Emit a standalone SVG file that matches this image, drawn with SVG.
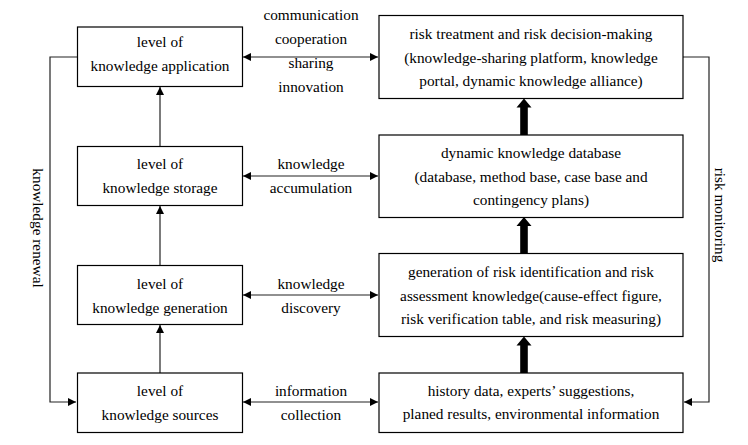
<svg xmlns="http://www.w3.org/2000/svg" width="748" height="445" viewBox="0 0 748 445">
<style>
.box{fill:#fff;stroke:#000;stroke-width:1.2}
.t{font-family:'Liberation Serif','Times New Roman',serif;font-size:15.3px;fill:#000;text-anchor:middle}
.ln{fill:none;stroke:#222;stroke-width:1.2}
.thick{fill:#000;stroke:none}
</style>
<defs>
<marker id="ah" viewBox="0 0 10 10" refX="10" refY="5" markerWidth="8" markerHeight="8" markerUnits="userSpaceOnUse" orient="auto-start-reverse">
<path d="M0,0 L10,5 L0,10 z" fill="#000"/>
</marker>
</defs>
<rect width="748" height="445" fill="#fff"/>
<g id="connectors">
<line class="ln" x1="243" y1="57" x2="378" y2="57" marker-start="url(#ah)" marker-end="url(#ah)"/>
<line class="ln" x1="243" y1="176" x2="378" y2="176" marker-start="url(#ah)" marker-end="url(#ah)"/>
<line class="ln" x1="243" y1="295" x2="378" y2="295" marker-start="url(#ah)" marker-end="url(#ah)"/>
<line class="ln" x1="243" y1="402" x2="378" y2="402" marker-start="url(#ah)" marker-end="url(#ah)"/>
<line class="ln" x1="160" y1="146" x2="160" y2="87" marker-end="url(#ah)"/>
<line class="ln" x1="160" y1="265" x2="160" y2="206" marker-end="url(#ah)"/>
<line class="ln" x1="160" y1="373" x2="160" y2="325" marker-end="url(#ah)"/>
<polyline class="ln" points="77,57 50,57 50,402 76,402" marker-end="url(#ah)"/>
<polyline class="ln" points="683,57 709,57 709,402 684,402" marker-end="url(#ah)"/>
<path class="thick" d="M520.2,135 L520.2,107.5 L516.5,107.5 L524,98.5 L531.5,107.5 L527.8,107.5 L527.8,135 z"/>
<path class="thick" d="M520.2,253.5 L520.2,226 L516.5,226 L524,217 L531.5,226 L527.8,226 L527.8,253.5 z"/>
<path class="thick" d="M520.2,373 L520.2,345.5 L516.5,345.5 L524,336.5 L531.5,345.5 L527.8,345.5 L527.8,373 z"/>
</g>
<g id="label-row1">
<text class="t" x="311" y="20">communication</text>
<text class="t" x="311" y="44.3">cooperation</text>
<text class="t" x="311" y="68.3">sharing</text>
<text class="t" x="311" y="92.3">innovation</text>
</g>
<g id="label-row2">
<text class="t" x="311" y="169.3">knowledge</text>
<text class="t" x="311" y="193.3">accumulation</text>
</g>
<g id="label-row3">
<text class="t" x="311" y="288.5">knowledge</text>
<text class="t" x="311" y="312.5">discovery</text>
</g>
<g id="label-row4">
<text class="t" x="311" y="396">information</text>
<text class="t" x="311" y="419.5">collection</text>
</g>
<g id="label-renewal">
<text class="t" transform="translate(33,228) rotate(90)">knowledge renewal</text>
</g>
<g id="label-monitoring">
<text class="t" transform="translate(714.5,215) rotate(90)">risk monitoring</text>
</g>
<g id="node-application">
<rect class="box" x="77.5" y="27" width="165" height="59.5"/>
<text class="t" x="160" y="46.5">level of</text>
<text class="t" x="160" y="70.5">knowledge application</text>
</g>
<g id="node-storage">
<rect class="box" x="77.5" y="146.5" width="165" height="59"/>
<text class="t" x="160" y="169.3">level of</text>
<text class="t" x="160" y="193.3">knowledge storage</text>
</g>
<g id="node-generation">
<rect class="box" x="77.5" y="265.5" width="165" height="59"/>
<text class="t" x="160" y="288.5">level of</text>
<text class="t" x="160" y="312.5">knowledge generation</text>
</g>
<g id="node-sources">
<rect class="box" x="77.5" y="373" width="165" height="59.5"/>
<text class="t" x="160" y="396">level of</text>
<text class="t" x="160" y="420">knowledge sources</text>
</g>
<g id="node-treatment">
<rect class="box" x="379" y="15.5" width="304" height="83"/>
<text class="t" x="531" y="38.5">risk treatment and risk decision-making</text>
<text class="t" x="531" y="62.5">(knowledge-sharing platform, knowledge</text>
<text class="t" x="531" y="86">portal, dynamic knowledge alliance)</text>
</g>
<g id="node-database">
<rect class="box" x="379" y="135" width="304" height="82.5"/>
<text class="t" x="531" y="158">dynamic knowledge database</text>
<text class="t" x="531" y="181.5">(database, method base, case base and</text>
<text class="t" x="531" y="205">contingency plans)</text>
</g>
<g id="node-identification">
<rect class="box" x="379" y="253.5" width="304" height="83"/>
<text class="t" x="531" y="277">generation of risk identification and risk</text>
<text class="t" x="531" y="300.5">assessment knowledge(cause-effect figure,</text>
<text class="t" x="531" y="324">risk verification table, and risk measuring)</text>
</g>
<g id="node-history">
<rect class="box" x="379" y="373" width="304" height="59.5"/>
<text class="t" x="531" y="396">history data, experts’ suggestions,</text>
<text class="t" x="531" y="419">planed results, environmental information</text>
</g>
</svg>
